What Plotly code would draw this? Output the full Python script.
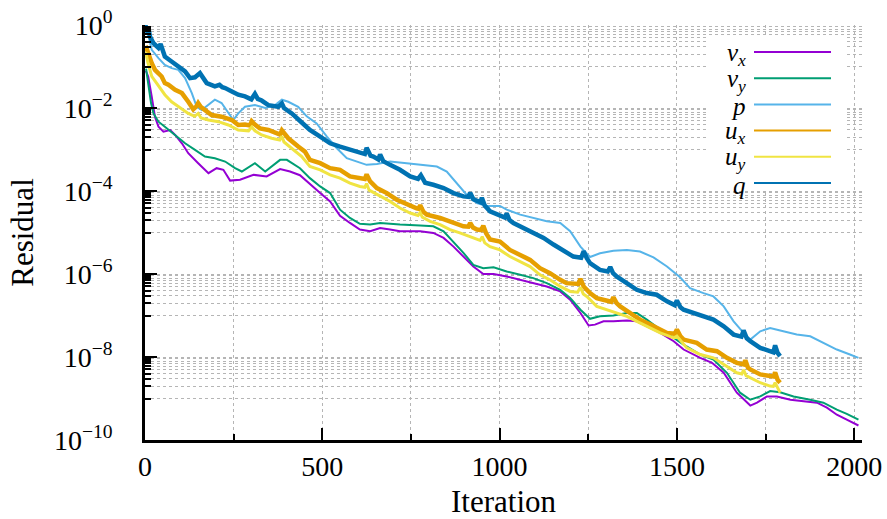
import plotly.graph_objects as go

# ---- data: (iteration, log10 residual) ----
vx = [(2,-1.1),(9,-1.24),(19,-1.73),(28,-2.21),(38,-2.45),(52,-2.57),(71,-2.53),(85,-2.65),(104,-2.85),
      (122,-3.09),(150,-3.33),(179,-3.57),(202,-3.45),(221,-3.49),(240,-3.75),(268,-3.73),(306,-3.61),
      (343,-3.65),(381,-3.47),(409,-3.53),(437,-3.62),(465,-3.84),(494,-4.05),(522,-4.25),(550,-4.6),
      (578,-4.77),(606,-4.93),(635,-4.97),(663,-4.89),(691,-4.93),(719,-4.97),(748,-4.97),(776,-4.97),
      (813,-5.01),(842,-5.13),(870,-5.34),(898,-5.58),(926,-5.82),(954,-6.0),(983,-6.0),(1020,-6.06),
      (1058,-6.14),(1095,-6.22),(1133,-6.3),(1171,-6.42),(1199,-6.62),(1228,-6.94),(1251,-7.24),
      (1269,-7.22),(1293,-7.14),(1321,-7.14),(1359,-7.12),(1387,-7.14),(1415,-7.26),(1453,-7.42),
      (1491,-7.62),(1519,-7.82),(1566,-8.02),(1599,-8.14),(1632,-8.38),(1669,-8.86),(1707,-9.17),
      (1726,-9.1),(1754,-8.95),(1782,-8.95),(1820,-9.03),(1857,-9.07),(1895,-9.1),(1923,-9.22),
      (1951,-9.39),(1979,-9.51),(2012,-9.65)]

vy = [(3,-1.05),(11,-1.48),(17,-1.88),(24,-2.13),(38,-2.33),(56,-2.45),(85,-2.65),(113,-2.85),(141,-3.01),
      (169,-3.17),(197,-3.21),(226,-3.29),(254,-3.45),(273,-3.53),(310,-3.33),(339,-3.53),(381,-3.25),
      (400,-3.25),(437,-3.45),(465,-3.69),(494,-3.89),(522,-4.05),(550,-4.45),(578,-4.65),(606,-4.79),
      (635,-4.81),(663,-4.77),(691,-4.79),(719,-4.81),(776,-4.83),(813,-4.85),(842,-4.97),(870,-5.22),
      (898,-5.49),(926,-5.78),(954,-5.86),(983,-5.84),(1020,-5.94),(1058,-6.02),(1095,-6.1),(1133,-6.22),
      (1171,-6.38),(1199,-6.58),(1228,-6.86),(1255,-7.08),(1283,-7.02),(1321,-7.0),(1359,-6.94),
      (1387,-6.94),(1415,-7.1),(1453,-7.34),(1481,-7.48),(1519,-7.7),(1566,-7.94),(1603,-8.06),
      (1641,-8.38),(1678,-8.86),(1707,-9.03),(1735,-8.95),(1763,-8.82),(1791,-8.85),(1829,-8.95),
      (1876,-9.03),(1913,-9.1),(1951,-9.27),(1979,-9.37),(2012,-9.51)]

p = [(2,-0.05),(8,-0.2),(19,-0.6),(38,-0.8),(56,-0.96),(75,-1.04),(94,-1.08),(113,-1.28),(132,-1.64),
     (146,-1.97),(160,-2.05),(179,-1.93),(197,-1.8),(216,-1.88),(235,-2.13),(249,-2.29),(263,-2.13),
     (282,-1.97),(310,-1.93),(339,-2.0),(367,-1.93),(386,-1.8),(404,-1.85),(432,-1.97),(456,-2.2),
     (484,-2.37),(513,-2.69),(541,-2.97),(569,-3.21),(597,-3.29),(625,-3.37),(654,-3.35),(691,-3.29),
     (738,-3.33),(785,-3.37),(823,-3.41),(851,-3.53),(879,-3.81),(907,-4.09),(936,-4.29),(964,-4.36),
     (1001,-4.36),(1020,-4.45),(1058,-4.57),(1095,-4.65),(1133,-4.73),(1171,-4.77),(1199,-4.97),
     (1228,-5.34),(1255,-5.59),(1283,-5.5),(1321,-5.44),(1359,-5.42),(1396,-5.46),(1434,-5.6),
     (1472,-5.82),(1509,-6.08),(1537,-6.34),(1575,-6.46),(1603,-6.54),(1632,-6.78),(1660,-7.14),
     (1688,-7.42),(1707,-7.58),(1735,-7.38),(1763,-7.3),(1800,-7.38),(1838,-7.46),(1876,-7.5),
     (1913,-7.66),(1951,-7.82),(1988,-7.94),(2012,-8.02)]

ux = [(2,-0.5),(9,-0.68),(19,-0.92),(28,-1.08),(38,-1.16),(47,-1.24),(56,-1.4),(66,-1.44),(85,-1.56),
      (104,-1.64),(122,-1.85),(136,-2.03),(145,-1.96),(150,-1.88),(158,-1.98),(170,-2.05),(188,-2.17),
      (216,-2.21),(245,-2.29),(263,-2.41),(282,-2.4),(296,-2.42),(301,-2.32),(310,-2.4),(324,-2.49),
      (348,-2.53),(372,-2.62),(381,-2.64),(386,-2.54),(395,-2.66),(404,-2.73),(432,-2.93),(451,-3.05),
      (465,-3.25),(494,-3.33),(522,-3.45),(550,-3.49),(578,-3.65),(606,-3.69),(620,-3.71),(625,-3.6),
      (635,-3.77),(654,-3.93),(682,-4.05),(710,-4.21),(738,-4.33),(766,-4.42),(772,-4.43),(776,-4.34),
      (785,-4.5),(795,-4.57),(832,-4.65),(870,-4.77),(898,-4.85),(912,-4.86),(917,-4.77),(925,-4.88),
      (936,-4.93),(948,-4.94),(954,-4.84),(962,-5.02),(973,-5.17),(1001,-5.22),(1029,-5.42),
      (1058,-5.54),(1086,-5.66),(1114,-5.86),(1142,-5.98),(1171,-6.14),(1189,-6.22),(1222,-6.24),
      (1228,-6.12),(1237,-6.3),(1255,-6.46),(1274,-6.58),(1302,-6.66),(1315,-6.67),(1321,-6.56),
      (1330,-6.7),(1340,-6.78),(1368,-6.94),(1396,-7.1),(1425,-7.22),(1453,-7.34),(1472,-7.42),
      (1494,-7.44),(1500,-7.34),(1510,-7.5),(1519,-7.58),(1556,-7.66),(1584,-7.82),(1613,-7.86),
      (1641,-8.02),(1669,-8.14),(1688,-8.18),(1693,-8.08),(1700,-8.25),(1707,-8.3),(1735,-8.42),
      (1763,-8.46),(1773,-8.47),(1777,-8.37),(1784,-8.55),(1791,-8.62)]

uy = [(2,-0.65),(8,-0.9),(19,-1.24),(38,-1.48),(56,-1.68),(75,-1.85),(94,-1.97),(122,-2.13),(140,-2.2),
      (150,-2.13),(158,-2.24),(179,-2.29),(207,-2.33),(235,-2.41),(263,-2.53),(292,-2.55),(301,-2.46),
      (310,-2.55),(329,-2.65),(357,-2.73),(380,-2.77),(386,-2.68),(392,-2.82),(414,-2.97),(442,-3.17),
      (465,-3.41),(494,-3.49),(522,-3.61),(550,-3.69),(578,-3.81),(606,-3.89),(620,-3.91),(625,-3.82),
      (632,-3.98),(663,-4.13),(691,-4.25),(719,-4.41),(748,-4.53),(770,-4.59),(776,-4.52),(782,-4.63),
      (804,-4.73),(832,-4.81),(860,-4.93),(888,-5.01),(917,-5.1),(945,-5.19),(951,-5.1),(958,-5.25),
      (973,-5.34),(1001,-5.42),(1029,-5.58),(1058,-5.7),(1086,-5.82),(1114,-6.02),(1142,-6.14),
      (1171,-6.3),(1199,-6.42),(1220,-6.44),(1228,-6.32),(1236,-6.48),(1246,-6.54),(1274,-6.78),
      (1302,-6.86),(1330,-6.94),(1359,-7.02),(1387,-7.14),(1415,-7.26),(1453,-7.42),(1491,-7.54),
      (1500,-7.5),(1528,-7.78),(1566,-7.94),(1603,-8.02),(1641,-8.22),(1669,-8.38),(1683,-8.41),
      (1688,-8.31),(1695,-8.45),(1707,-8.5),(1735,-8.62),(1763,-8.7),(1772,-8.71),(1777,-8.62),
      (1784,-8.75),(1791,-8.86)]

q = [(1,0.0),(5,-0.12),(10,-0.08),(14,-0.28),(24,-0.44),(38,-0.55),(44,-0.46),(50,-0.6),(56,-0.76),
     (75,-0.88),(94,-1.0),(113,-1.12),(127,-1.28),(141,-1.26),(155,-1.16),(162,-1.25),(174,-1.4),
     (197,-1.48),(210,-1.44),(218,-1.5),(226,-1.52),(245,-1.6),(263,-1.68),(282,-1.72),(300,-1.79),
     (310,-1.66),(318,-1.78),(329,-1.82),(348,-1.93),(376,-1.97),(386,-1.89),(392,-2.0),(414,-2.13),
     (442,-2.35),(465,-2.53),(494,-2.69),(522,-2.85),(550,-2.93),(578,-3.01),(606,-3.09),(620,-3.11),
     (625,-2.96),(636,-3.15),(644,-3.17),(658,-3.24),(663,-3.12),(672,-3.28),(691,-3.37),(719,-3.49),
     (748,-3.65),(770,-3.71),(778,-3.62),(790,-3.8),(813,-3.85),(842,-3.93),(870,-4.05),(898,-4.13),
     (912,-4.14),(917,-4.04),(926,-4.2),(936,-4.25),(946,-4.27),(950,-4.16),(958,-4.35),(973,-4.49),
     (1001,-4.61),(1015,-4.64),(1020,-4.54),(1028,-4.7),(1039,-4.77),(1067,-4.89),(1095,-5.01),
     (1124,-5.13),(1152,-5.29),(1180,-5.42),(1208,-5.58),(1230,-5.61),(1237,-5.45),(1246,-5.62),
     (1255,-5.74),(1283,-5.9),(1305,-5.94),(1312,-5.83),(1320,-5.98),(1330,-6.06),(1359,-6.22),
     (1387,-6.38),(1415,-6.46),(1443,-6.5),(1472,-6.66),(1494,-6.75),(1500,-6.64),(1510,-6.8),
     (1519,-6.86),(1547,-6.94),(1575,-7.02),(1603,-7.1),(1632,-7.26),(1660,-7.46),(1682,-7.51),
     (1688,-7.36),(1697,-7.55),(1707,-7.62),(1735,-7.78),(1763,-7.86),(1772,-7.89),(1777,-7.72),
     (1784,-7.9),(1791,-7.98)]

series_names = ["<i>v</i><sub><i>x</i></sub>", "<i>v</i><sub><i>y</i></sub>", "<i>p</i>",
                "<i>u</i><sub><i>x</i></sub>", "<i>u</i><sub><i>y</i></sub>", "<i>q</i>"]
series_data = [vx, vy, p, ux, uy, q]
series_colors = ["#9400d3", "#009e73", "#56b4e9", "#e69f00", "#f0e442", "#0072b2"]
series_widths = [2, 2, 2, 4.5, 3, 4.5]

x_ticks = [0, 500, 1000, 1500, 2000]
x_minor = [250, 750, 1250, 1750]
y_tick_exps = [0, -2, -4, -6, -8, -10]
y_ticktext = ["10<sup>0</sup>", "10<sup>−2</sup>", "10<sup>−4</sup>", "10<sup>−6</sup>",
              "10<sup>−8</sup>", "10<sup>−10</sup>"]

W, H = 887, 519
ML, MR, MT, MB = 145, 25, 25, 79
FONT = "Liberation Serif"
GRID = "#b5b5b5"

fig = go.Figure()
for name, data, color, w in zip(series_names, series_data, series_colors, series_widths):
    fig.add_trace(go.Scatter(
        x=[d[0] for d in data], y=[10 ** d[1] for d in data],
        mode="lines", name=name, line=dict(color=color, width=w), showlegend=False))

y_minor = []
for e in [-1, -3, -5, -7, -9]:
    for k in range(1, 10):
        y_minor.append(k * 10 ** e)

fig.update_layout(
    width=W, height=H,
    margin=dict(l=ML, r=MR, t=MT, b=MB, pad=0, autoexpand=False),
    paper_bgcolor="white", plot_bgcolor="white",
    font=dict(family=FONT, color="black", size=28),
    xaxis=dict(
        range=[0, 2022], tickmode="array", tickvals=x_ticks, ticktext=[str(t) for t in x_ticks],
        ticks="inside", ticklen=12, tickwidth=2, tickcolor="black", automargin=False,
        showline=True, linewidth=2.5, linecolor="black", zeroline=False, mirror=False,
        showgrid=True, gridcolor=GRID, griddash="dot", gridwidth=1,
        minor=dict(tickmode="array", tickvals=x_minor, ticks="inside", ticklen=6, tickwidth=2,
                   tickcolor="black", showgrid=True, gridcolor=GRID, griddash="dot", gridwidth=1),
        tickfont=dict(size=28, family=FONT), ticklabelstandoff=0,
        title=dict(text="Iteration", font=dict(size=31, family=FONT), standoff=24),
    ),
    yaxis=dict(
        type="log", range=[-10, 0], tickmode="array",
        tickvals=[10 ** e for e in y_tick_exps], ticktext=y_ticktext,
        ticks="inside", ticklen=12, tickwidth=2, tickcolor="black", automargin=False,
        showline=True, linewidth=2.5, linecolor="black", zeroline=False, mirror=False,
        showgrid=True, gridcolor=GRID, griddash="dot", gridwidth=1,
        minor=dict(tickmode="array", tickvals=y_minor, ticks="inside", ticklen=6, tickwidth=1.5,
                   tickcolor="black", showgrid=True, gridcolor=GRID, griddash="dot", gridwidth=1),
        tickfont=dict(size=28, family=FONT), ticklabelstandoff=24,
        title=dict(text="Residual", font=dict(size=31, family=FONT), standoff=12),
    ),
)

# ---- gnuplot-style key: label right-aligned, sample line to its right ----
PW, PH = W - ML - MR, H - MT - MB
def px_x(v):
    return (v - ML) / PW
def px_y(v):
    return (H - MB - v) / PH

fig.add_shape(type="rect", xref="paper", yref="paper",
              x0=px_x(706), x1=px_x(846), y0=px_y(190), y1=px_y(36),
              fillcolor="white", line=dict(width=0), layer="above")
row0, row_step = 52, 26.2
for i, (name, color) in enumerate(zip(series_names, series_colors)):
    yy = row0 + i * row_step
    fig.add_shape(type="line", xref="paper", yref="paper",
                  x0=px_x(754), x1=px_x(831), y0=px_y(yy), y1=px_y(yy),
                  line=dict(color=color, width=2), layer="above")
    fig.add_annotation(xref="paper", yref="paper", x=px_x(748), y=px_y(yy + 2),
                       text=name, showarrow=False, xanchor="right", yanchor="middle",
                       font=dict(size=25, family=FONT, color="black"))

fig.write_html("out.html")
